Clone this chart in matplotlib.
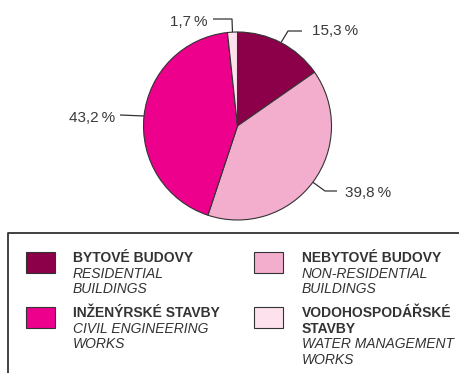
import numpy as np
import matplotlib
matplotlib.use("Agg")
import matplotlib.pyplot as plt
from matplotlib.patches import Rectangle

plt.rcParams['font.family'] = ['Liberation Sans', 'DejaVu Sans']

# podíly stavební produkce (%)
shares = [15.3, 39.8, 43.2, 1.7]
colors = ['#8b0049', '#f3adcd', '#ec008c', '#fde1ec']
names_cz = ['BYTOVÉ BUDOVY', 'NEBYTOVÉ BUDOVY', 'INŽENÝRSKÉ STAVBY', 'VODOHOSPODÁŘSKÉ\nSTAVBY']
names_en = ['RESIDENTIAL\nBUILDINGS', 'NON-RESIDENTIAL\nBUILDINGS', 'CIVIL ENGINEERING\nWORKS', 'WATER MANAGEMENT\nWORKS']

W, H = 459, 373
ink = '#333333'

fig = plt.figure(figsize=(W / 100, H / 100), dpi=100)
ax = fig.add_axes([0, 0, 1, 1])

cx, cy, r = 237.5, 126, 94
# osa y je otočená, proto -90 a proti směru => vizuálně od vrcholu po směru hodinek
wedges, _ = ax.pie(shares, colors=colors, startangle=-90, counterclock=True,
                   center=(cx, cy), radius=r, frame=True,
                   wedgeprops=dict(edgecolor=ink, linewidth=0.8))
ax.set_xlim(0, W)
ax.set_ylim(H, 0)   # souřadnice v pixelech, y dolů
ax.axis('off')

# lomené vodicí čáry: (zlom, konec čáry, pozice textu, zarovnání)
leaders = [
    [(288, 31), (302, 31), (312, 35), 'left'],
    [(325, 191), (337, 191), (345, 197), 'left'],
    [(120, 115), (120, 115), (115, 122), 'right'],
    [(232, 19), (213, 19), (207, 26), 'right'],
]
for w, v, (knee, end, tpos, ha) in zip(wedges, shares, leaders):
    mid = np.deg2rad((w.theta1 + w.theta2) / 2)
    sx, sy = cx + r * np.cos(mid), cy + r * np.sin(mid)
    ax.plot([sx, knee[0], end[0]], [sy, knee[1], end[1]], color=ink, lw=0.9,
            solid_capstyle='butt')
    ax.text(tpos[0], tpos[1], f'{v:.1f}'.replace('.', ',') + '\u2009%',
            ha=ha, va='baseline', fontsize=11, color='#3a3a3a')

# rámeček legendy
ax.plot([8, 8, W + 5], [H + 5, 233, 233], color=ink, lw=1.3, clip_on=False)

patch_x = [26, 254]
text_x = [73, 302]
row_top = [252, 307]
for i in range(4):
    col, row = i % 2, i // 2
    ax.add_patch(Rectangle((patch_x[col], row_top[row]), 29, 21,
                           facecolor=colors[i], edgecolor=ink, lw=0.8))
    base = row_top[row] + 10
    lines_cz = names_cz[i].split('\n')
    for k, t in enumerate(lines_cz):
        ax.text(text_x[col], base + 15.6 * k, t, fontsize=10, fontweight='bold',
                color=ink, va='baseline', ha='left')
    off = len(lines_cz)
    for k, t in enumerate(names_en[i].split('\n')):
        ax.text(text_x[col], base + 15.6 * (off + k), t, fontsize=10,
                fontstyle='italic', color=ink, va='baseline', ha='left')

fig.savefig('out.png', dpi=100)
